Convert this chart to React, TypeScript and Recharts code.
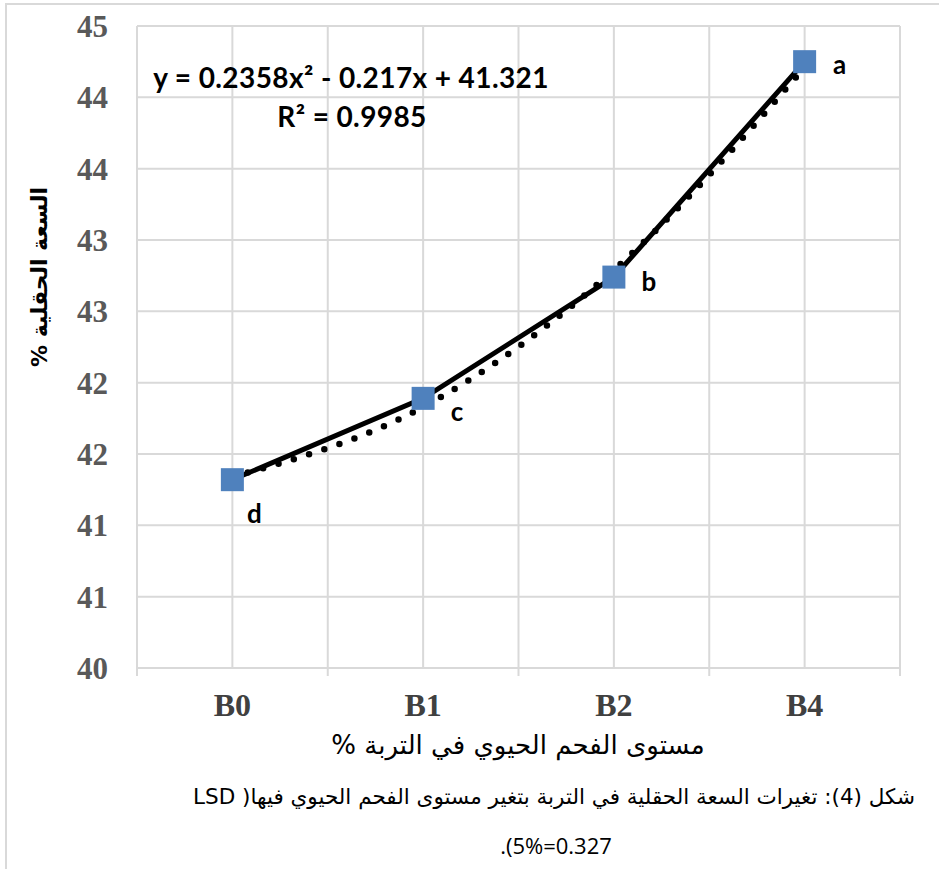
import React from 'react';
import { LineChart, Line, XAxis, YAxis, CartesianGrid, LabelList } from 'recharts';

const categories = ['B0', 'B1', 'B2', 'B4'];
const fieldCapacity = [41.32, 41.89, 42.74, 44.25];
const trendValues = [41.34, 41.83, 42.79, 44.21];
const pointLetters = ['d', 'c', 'b', 'a'];
const yTicks = [40, 40.5, 41, 41.5, 42, 42.5, 43, 43.5, 44, 44.5];
const xTicks = [-0.5, 0, 0.5, 1, 1.5, 2, 2.5, 3, 3.5];

const equationText = 'y = 0.2358x² - 0.217x + 41.321';
const r2Text = 'R² = 0.9985';
const yTitle = 'السعة الحقلية %';
const xTitle = 'مستوى الفحم الحيوي في التربة %';
const captionLine1 = 'شكل (4): تغيرات السعة الحقلية في التربة بتغير مستوى الفحم الحيوي فيها( LSD';
const captionLine2 = '.(5%=0.327';

const data = categories.map((name, i) => ({
  x: i,
  name,
  value: fieldCapacity[i],
  trend: trendValues[i],
  letter: pointLetters[i],
}));

// where each letter sits relative to its marker ("d" went below, the others to the right)
const letterOffsets = [[22, 33], [34, 13], [35, 4], [35, 2]];

const serif = '"Liberation Serif", "Times New Roman", serif';
const sans = 'Lato, "Open Sans", sans-serif';
const arabic = '"DejaVu Sans", sans-serif';
const gridColor = '#d9d9d9';

const SquareDot = ({ cx, cy, index }: any) => (
  <rect key={index} x={cx - 11.5} y={cy - 11.5} width={23} height={23} fill="#4f81bd" />
);

const XTick = ({ x, y, payload }: any) => {
  const v = payload.value;
  if (!Number.isInteger(v)) {
    return <line x1={x} x2={x} y1={y} y2={y + 8} stroke={gridColor} strokeWidth={2} />;
  }
  return (
    <text x={x} y={y + 48} textAnchor="middle" fill="#404040" fontSize={32} fontWeight={700} fontFamily={serif}>
      {categories[v]}
    </text>
  );
};

const LetterLabel = (p: any) => {
  const [dx, dy] = letterOffsets[p.index] || [0, 0];
  return (
    <text x={p.x + dx} y={p.y + dy} textAnchor="middle" dominantBaseline="central" fill="#000" fontSize={26} fontWeight={700} fontFamily={sans}>
      {p.value}
    </text>
  );
};

export default function App() {
  return (
    <div style={{ position: 'absolute', left: 0, top: 0, width: 939, height: 869, background: '#fff', overflow: 'hidden' }}>
      <div style={{ position: 'absolute', left: 5, top: 3, width: 1000, height: 1000, borderTop: `2px solid ${gridColor}`, borderLeft: `2px solid ${gridColor}` }} />
      <div style={{ position: 'absolute', left: 0, top: 0 }}>
        <LineChart width={939} height={869} data={data} margin={{ top: 26, right: 39, left: 0, bottom: 0 }}>
          <CartesianGrid stroke={gridColor} strokeWidth={2} />
          <XAxis
            type="number"
            dataKey="x"
            domain={[-0.5, 3.5]}
            ticks={xTicks}
            interval={0}
            height={201}
            axisLine={false}
            tickLine={false}
            tickSize={0}
            tickMargin={0}
            tick={<XTick />}
          />
          <YAxis
            domain={[40, 44.5]}
            ticks={yTicks}
            interval={0}
            width={137}
            axisLine={false}
            tickLine={false}
            tickSize={0}
            tickMargin={29}
            tickFormatter={(v: number) => String(Math.round(v))}
            tick={{ fill: '#595959', fontSize: 31, fontWeight: 700, fontFamily: serif }}
          />
          <Line
            type="linear"
            dataKey="value"
            stroke="#000"
            strokeWidth={5}
            dot={<SquareDot />}
            activeDot={false}
            isAnimationActive={false}
          >
            <LabelList dataKey="letter" content={<LetterLabel />} />
          </Line>
          <Line
            type="monotone"
            dataKey="trend"
            stroke="#000"
            strokeWidth={6.5}
            strokeDasharray="0 16"
            strokeLinecap="round"
            dot={false}
            activeDot={false}
            isAnimationActive={false}
          />
        </LineChart>
      </div>
      <svg width={939} height={869} style={{ position: 'absolute', left: 0, top: 0, pointerEvents: 'none' }}>
        <text x={351} y={88} textAnchor="middle" fontSize={28} letterSpacing={0.4} fontWeight={700} fontFamily={sans} fill="#000">
          {equationText}
        </text>
        <text x={352} y={127} textAnchor="middle" fontSize={28} letterSpacing={0.4} fontWeight={700} fontFamily={sans} fill="#000">
          {r2Text}
        </text>
      </svg>
      <div
        dir="rtl"
        style={{
          position: 'absolute', left: 40 - 150, top: 277 - 16, width: 300, height: 32, lineHeight: '32px',
          textAlign: 'center', transform: 'rotate(-90deg)', fontFamily: arabic, fontWeight: 700, fontSize: 22, color: '#000', whiteSpace: 'nowrap',
        }}
      >
        {yTitle}
      </div>
      <div
        dir="rtl"
        style={{
          position: 'absolute', left: 218, top: 745 - 18, width: 600, height: 36, lineHeight: '36px',
          textAlign: 'center', fontFamily: arabic, fontSize: 26, color: '#000', whiteSpace: 'nowrap',
        }}
      >
        {xTitle}
      </div>
      <div
        dir="rtl"
        style={{
          position: 'absolute', right: 939 - 915, top: 797 - 17, height: 34, lineHeight: '34px',
          fontFamily: arabic, fontSize: 21.5, color: '#000', whiteSpace: 'nowrap',
        }}
      >
        {captionLine1}
      </div>
      <div
        style={{
          position: 'absolute', left: 456, top: 845 - 17, width: 200, height: 34, lineHeight: '34px',
          textAlign: 'center', fontFamily: '"Open Sans", sans-serif', fontSize: 22, color: '#000', whiteSpace: 'nowrap',
        }}
      >
        {captionLine2}
      </div>
    </div>
  );
}
